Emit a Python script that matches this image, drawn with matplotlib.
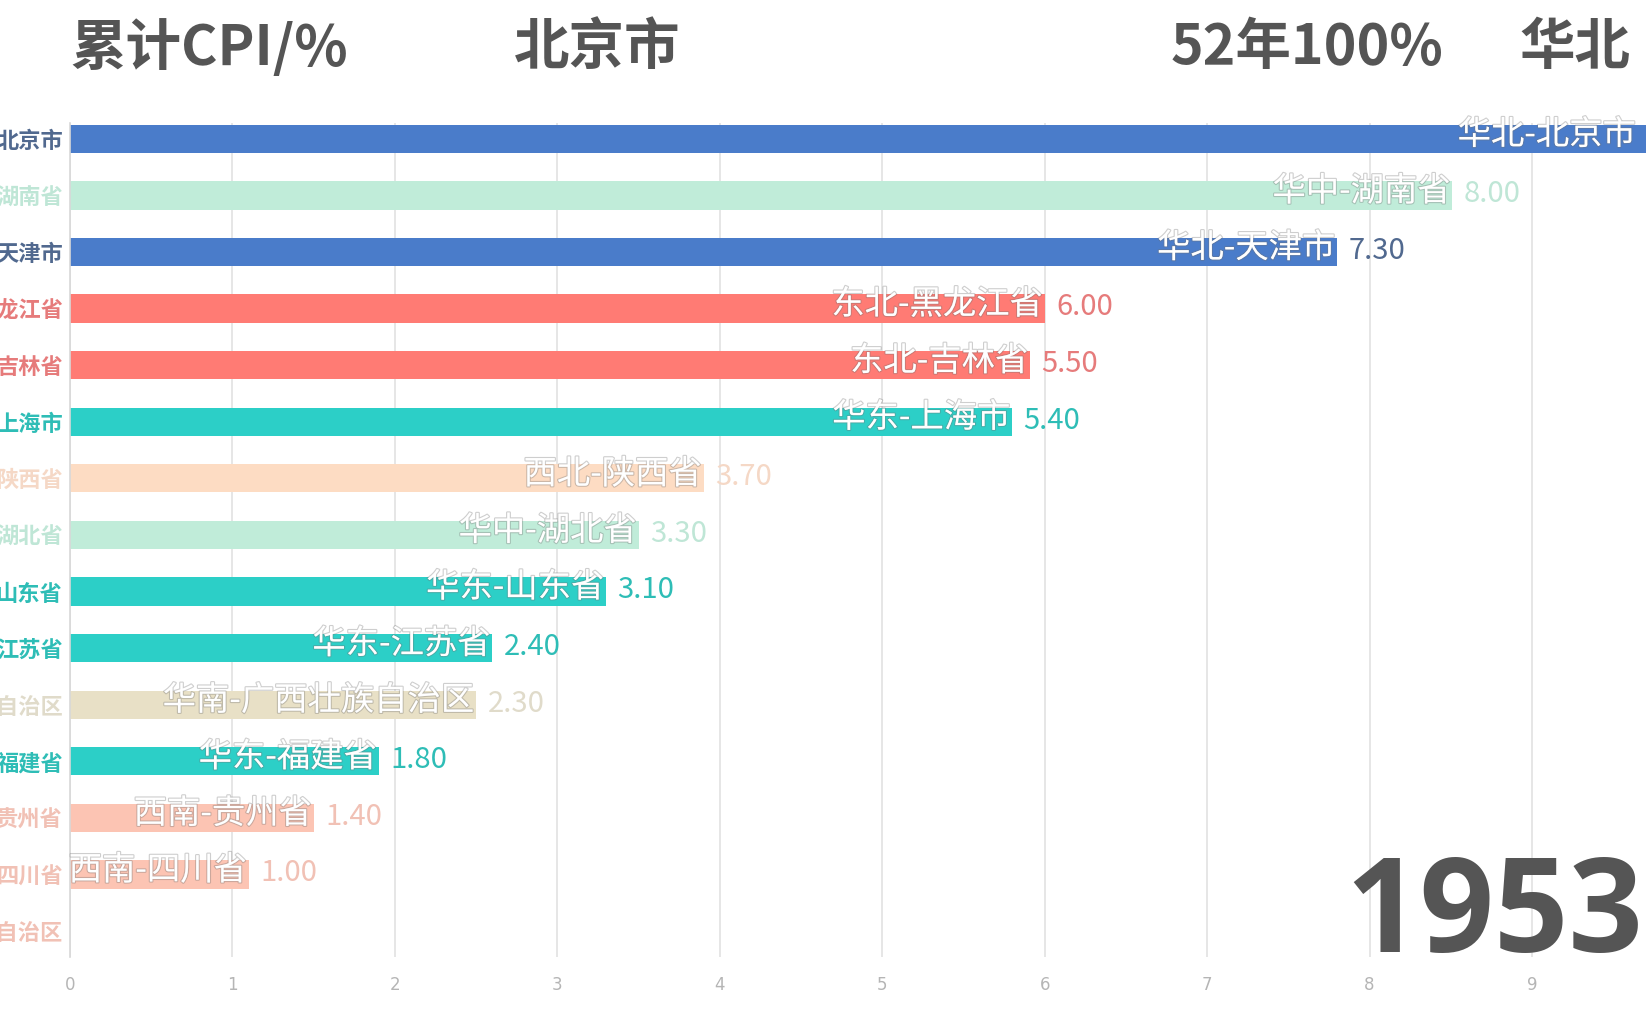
import matplotlib.pyplot as plt
import matplotlib.patheffects as pe

plt.rcParams['font.family'] = ['Noto Sans CJK SC', 'DejaVu Sans']

# data (one animation frame: bar lengths lag the printed values)
provinces = ['北京市', '湖南省', '天津市', '黑龙江省', '吉林省', '上海市', '陕西省', '湖北省',
             '山东省', '江苏省', '广西壮族自治区', '福建省', '贵州省', '四川省', '西藏自治区']
regions = ['华北', '华中', '华北', '东北', '东北', '华东', '西北', '华中',
           '华东', '华东', '华南', '华东', '西南', '西南', '西南']
bar_len = [9.70, 8.51, 7.80, 6.00, 5.91, 5.80, 3.90, 3.50, 3.30, 2.60, 2.50, 1.90, 1.50, 1.10, 0.0]
values = [9.70, 8.00, 7.30, 6.00, 5.50, 5.40, 3.70, 3.30, 3.10, 2.40, 2.30, 1.80, 1.40, 1.00, 0.0]
xticks = [0, 1, 2, 3, 4, 5, 6, 7, 8, 9]

title_left = '累计CPI/%'
title_mid = '北京市'
title_right = '52年100%'
title_region = '华北'
year = '1953'

bar_colors = {'华北': '#4a7cca', '华中': '#c0ecd9', '东北': '#ff7b74', '华东': '#2ccfc7',
              '西北': '#fddcc3', '华南': '#e8e0c6', '西南': '#fcc4b3'}
text_colors = {'华北': '#51698f', '华中': '#bfe6d6', '东北': '#e67b7b', '华东': '#2ebdb6',
               '西北': '#f5d8c6', '华南': '#e0dbca', '西南': '#f1c1b5'}

fig = plt.figure(figsize=(16.49, 10.30), dpi=100)
ax = fig.add_axes([70/1649, 73/1030, 1 - 70/1649, 834/1030])

n = len(provinces)
ypos = list(range(n))
ax.barh(ypos, bar_len, height=0.5, color=[bar_colors[r] for r in regions], zorder=2)

ax.set_xlim(0, 9.72)
ax.set_ylim(14.46, -0.28)
ax.set_xticks(xticks)
ax.set_xticklabels([str(t) for t in xticks], color='#b5b5b5', fontsize=12,
                   family=['Liberation Sans Narrow', 'DejaVu Sans'])
ax.set_yticks(ypos)
ax.set_yticklabels(provinces, fontsize=16, fontweight='bold')
for lab, r in zip(ax.get_yticklabels(), regions):
    lab.set_color(text_colors[r])
ax.tick_params(axis='both', length=0)
ax.tick_params(axis='x', pad=14)
ax.tick_params(axis='y', pad=5)

ax.xaxis.grid(True, color='#e2e2e2', lw=1.2, zorder=0)
ax.set_axisbelow(True)
for s in ['top', 'right', 'bottom']:
    ax.spines[s].set_visible(False)
ax.spines['left'].set_color('#d8d8d8')
ax.spines['left'].set_linewidth(1.2)

shadow = [pe.withStroke(linewidth=1.6, foreground=(0.45, 0.45, 0.45, 0.35))]
for i in range(n):
    if bar_len[i] <= 0:
        continue
    # keep the top label inside the figure, as the reference does
    xr = min(bar_len[i] - 0.01, 9.64)
    ax.text(xr, i - 0.07, regions[i] + '-' + provinces[i],
            ha='right', va='center', color='white', fontsize=24, zorder=3,
            path_effects=shadow)
    ax.text(bar_len[i] + 0.07, i - 0.02, '%.2f' % values[i],
            ha='left', va='center', color=text_colors[regions[i]], fontsize=21,
            zorder=3)

fig.text(70/1649, 1 - 48/1030, title_left, ha='left', va='center',
         fontsize=40, fontweight='bold', color='#555555')
fig.text(514/1649, 1 - 48/1030, title_mid, ha='left', va='center',
         fontsize=40, fontweight='bold', color='#555555')
fig.text(1443/1649, 1 - 48/1030, title_right, ha='right', va='center',
         fontsize=40, fontweight='bold', color='#555555')
fig.text(1630/1649, 1 - 48/1030, title_region, ha='right', va='center',
         fontsize=40, fontweight='bold', color='#555555')
fig.text(1643/1649, 1 - 952/1030, year, ha='right', va='baseline',
         fontsize=94, fontweight='bold', color='#555555',
         family=['Open Sans', 'DejaVu Sans'])

fig.savefig('out.png', dpi=100)
